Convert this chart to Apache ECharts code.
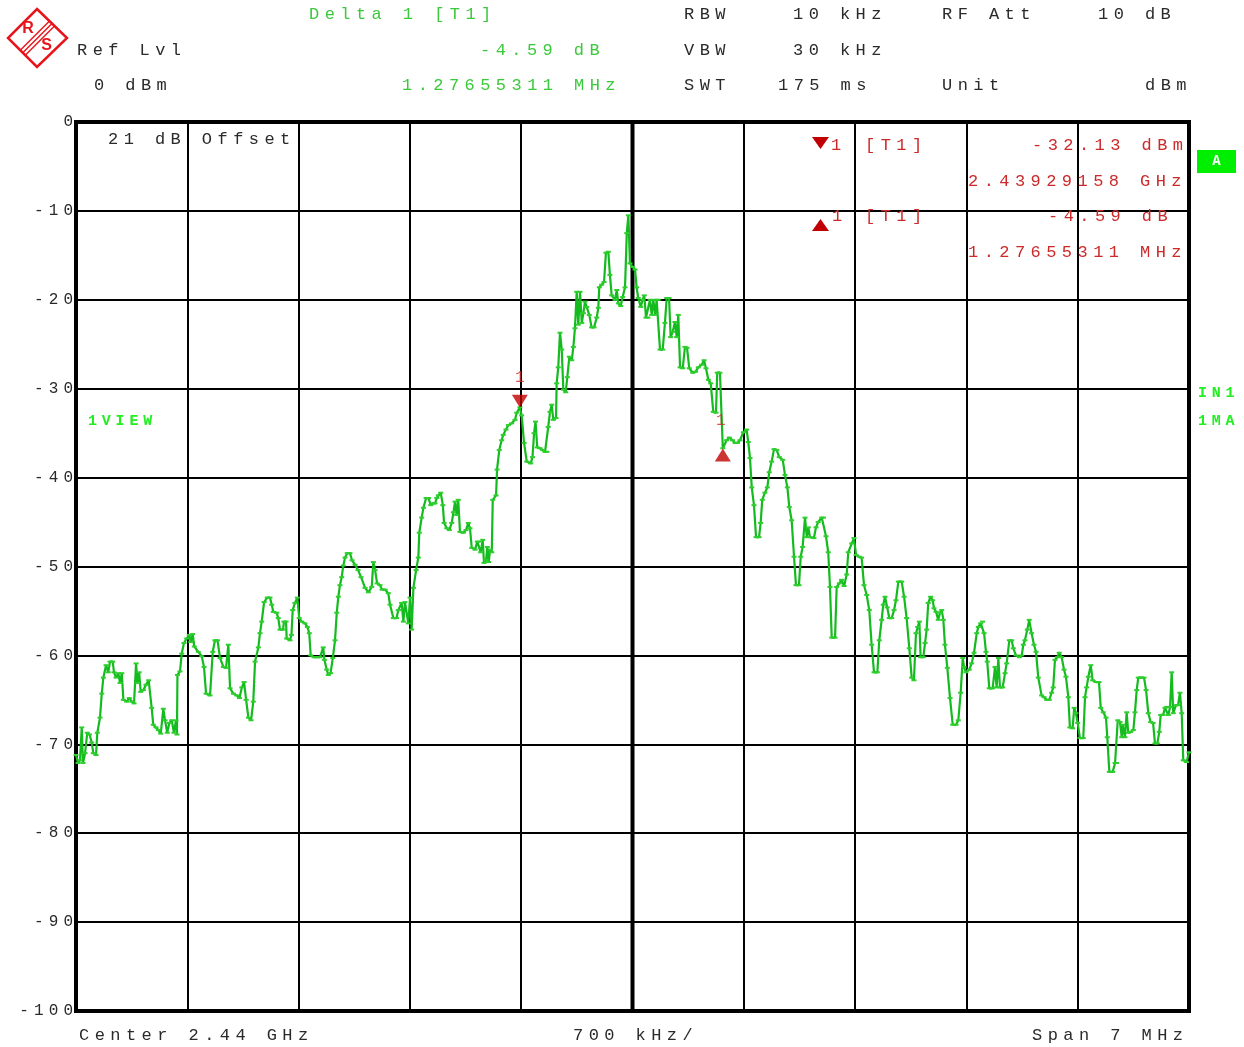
<!DOCTYPE html>
<html>
<head>
<meta charset="utf-8">
<title>Spectrum 2.44 GHz</title>
<script src="https://cdn.jsdelivr.net/npm/echarts@6/dist/echarts.min.js"></script>
<style>
  html, body { margin: 0; padding: 0; background: #fff; }
  #chart { width: 1244px; height: 1047px; }
</style>
</head>
<body>
<div id="chart"></div>
<script>
// Sweep trace: frequency offset from centre (kHz) and level (dBm)
const freqKHz = [
  -3500,-3487,-3475,-3464,-3456,-3443,-3429,-3415,-3401,-3391,
  -3374,-3366,-3349,-3338,-3328,-3311,-3297,-3286,-3269,-3261,
  -3248,-3234,-3223,-3212,-3202,-3181,-3165,-3149,-3135,-3122,
  -3114,-3103,-3093,-3076,-3060,-3043,-3024,-3014,-2997,-2982,
  -2967,-2951,-2940,-2926,-2913,-2898,-2884,-2871,-2865,-2862,
  -2846,-2835,-2821,-2804,-2787,-2778,-2766,-2756,-2731,-2709,
  -2695,-2682,-2657,-2640,-2626,-2610,-2594,-2573,-2556,-2542,
  -2531,-2510,-2489,-2472,-2457,-2443,-2430,-2416,-2399,-2385,
  -2374,-2353,-2343,-2332,-2317,-2297,-2280,-2269,-2259,-2238,
  -2228,-2217,-2198,-2192,-2179,-2175,-2154,-2145,-2137,-2123,
  -2108,-2096,-2080,-2060,-2045,-2033,-2024,-2003,-1984,-1965,
  -1945,-1938,-1923,-1913,-1899,-1885,-1871,-1860,-1850,-1840,
  -1829,-1819,-1808,-1794,-1777,-1764,-1745,-1726,-1707,-1682,
  -1661,-1640,-1630,-1619,-1606,-1588,-1575,-1556,-1536,-1525,
  -1504,-1484,-1473,-1462,-1452,-1441,-1431,-1410,-1399,-1389,
  -1378,-1361,-1347,-1341,-1326,-1315,-1298,-1283,-1269,-1255,
  -1242,-1231,-1221,-1206,-1193,-1185,-1168,-1152,-1137,-1126,
  -1116,-1106,-1096,-1085,-1064,-1047,-1033,-1022,-1011,-990,
  -976,-965,-955,-942,-934,-921,-913,-904,-896,-885,
  -879,-858,-852,-838,-823,-813,-796,-781,-760,-739,
  -728,-708,-697,-682,-665,-640,-629,-619,-610,-599,
  -582,-565,-550,-538,-530,-519,-508,-498,-481,-477,
  -467,-456,-445,-435,-420,-410,-397,-382,-372,-362,
  -351,-341,-330,-319,-309,-299,-288,-272,-257,-242,
  -225,-215,-209,-194,-179,-167,-152,-142,-131,-110,
  -99,-89,-74,-62,-47,-36,-26,-16,1,16,
  26,36,52,64,74,85,97,110,121,131,
  142,152,162,173,190,204,215,230,240,253,
  267,278,288,299,316,330,343,357,379,396,
  414,435,450,462,477,492,508,525,533,550,
  568,592,609,629,645,660,676,697,718,728,
  739,750,764,777,796,806,816,833,848,860,
  875,890,907,923,945,959,974,986,1001,1016,
  1028,1047,1058,1070,1085,1096,1106,1116,1141,1154,
  1168,1190,1201,1217,1231,1242,1253,1274,1284,1301,
  1315,1331,1347,1357,1379,1393,1406,1426,1441,1456,
  1473,1489,1504,1519,1540,1552,1567,1577,1588,1602,
  1615,1630,1645,1657,1672,1693,1708,1724,1741,1756,
  1770,1783,1794,1804,1812,1829,1840,1850,1860,1875,
  1888,1896,1909,1923,1934,1945,1955,1965,1980,1997,
  2014,2035,2049,2064,2077,2085,2097,2118,2133,2148,
  2165,2175,2190,2202,2211,2223,2231,2244,2265,2280,
  2290,2301,2311,2328,2343,2353,2370,2385,2395,2412,
  2433,2448,2458,2468,2483,2495,2510,2525,2538,2552,
  2573,2588,2605,2621,2636,2646,2657,2672,2684,2699,
  2714,2726,2741,2751,2768,2778,2789,2800,2814,2835,
  2846,2856,2867,2882,2894,2915,2934,2945,2961,2978,
  2986,2999,3020,3035,3045,3052,3066,3077,3083,3097,
  3108,3118,3133,3150,3160,3171,3181,3198,3217,3230,
  3244,3259,3274,3286,3301,3313,3322,3337,3349,3360,
  3370,3381,3391,3401,3418,3431,3443,3454,3464,3485,3500
];
const levelDbm = [
  -71.2,-72.1,-71.8,-68.1,-72.1,-71.0,-68.7,-68.9,-69.8,-71.0,
  -71.2,-68.7,-67.0,-64.3,-62.5,-61.1,-61.9,-60.7,-60.7,-61.9,
  -62.5,-62.0,-63.1,-62.0,-65.0,-65.2,-64.8,-65.2,-65.4,-60.9,
  -63.1,-61.9,-64.1,-63.9,-63.3,-62.8,-65.9,-67.8,-68.1,-68.4,
  -68.8,-66.0,-67.3,-68.7,-67.6,-67.3,-68.7,-67.3,-68.9,-62.2,
  -61.8,-59.8,-58.6,-58.1,-57.7,-58.5,-57.6,-59.0,-59.6,-60.1,
  -61.3,-64.3,-64.5,-59.6,-58.3,-58.3,-60.3,-61.3,-61.4,-58.8,
  -63.7,-64.3,-64.5,-64.8,-63.6,-63.0,-65.0,-67.0,-67.3,-65.2,
  -60.7,-59.1,-57.5,-56.2,-54.0,-53.5,-53.5,-54.3,-55.1,-55.2,
  -55.8,-57.1,-57.1,-56.2,-56.2,-58.1,-58.3,-57.7,-54.9,-54.1,
  -53.5,-55.8,-56.2,-56.4,-56.8,-57.5,-60.0,-60.2,-60.2,-60.2,
  -59.1,-60.5,-61.6,-62.2,-62.0,-60.3,-58.3,-55.2,-53.4,-52.1,
  -51.2,-49.9,-49.0,-48.5,-48.5,-49.3,-49.8,-50.4,-51.2,-52.4,
  -52.9,-52.3,-49.5,-50.4,-51.9,-52.1,-52.6,-52.6,-53.0,-54.3,
  -55.8,-55.8,-54.9,-54.9,-54.1,-56.2,-54.0,-56.4,-53.5,-57.1,
  -52.4,-50.4,-49.0,-46.2,-44.5,-43.4,-42.3,-42.3,-43.1,-42.9,
  -42.9,-42.3,-42.0,-41.7,-43.1,-45.1,-45.7,-45.9,-45.1,-43.9,
  -42.7,-44.2,-42.5,-46.1,-46.2,-45.9,-45.1,-45.7,-47.9,-48.1,
  -47.2,-47.2,-48.4,-47.0,-49.6,-49.3,-47.8,-49.5,-48.1,-48.4,
  -42.5,-42.0,-39.1,-36.9,-35.8,-35.2,-34.6,-34.1,-33.9,-33.5,
  -32.7,-32.1,-33.0,-36.1,-38.2,-38.4,-37.7,-35.0,-33.7,-36.6,
  -36.7,-36.9,-37.1,-37.1,-34.3,-32.6,-31.8,-33.5,-33.3,-29.4,
  -27.6,-23.7,-25.6,-30.1,-30.4,-28.7,-26.4,-26.8,-25.3,-23.2,
  -19.1,-22.8,-19.1,-22.6,-21.5,-20.2,-20.8,-21.7,-23.1,-23.1,
  -22.0,-20.9,-18.6,-18.3,-18.0,-14.7,-14.6,-17.2,-19.5,-20.0,
  -18.9,-20.4,-20.7,-19.7,-18.6,-12.5,-10.5,-15.9,-16.3,-16.6,
  -18.6,-19.8,-20.8,-20.0,-19.5,-22.0,-22.0,-20.0,-21.7,-20.0,
  -21.7,-20.0,-20.0,-25.6,-25.6,-22.6,-19.8,-19.8,-24.2,-23.6,
  -22.5,-24.2,-21.7,-27.6,-27.7,-25.3,-25.4,-27.7,-28.2,-28.1,
  -27.6,-27.3,-26.8,-27.7,-29.0,-29.4,-32.6,-32.7,-28.2,-28.2,
  -36.7,-35.8,-35.5,-35.8,-36.1,-36.1,-35.8,-34.9,-34.6,-36.0,
  -37.8,-41.1,-43.1,-46.7,-46.7,-45.1,-42.5,-41.7,-41.1,-39.4,
  -38.2,-36.8,-36.9,-37.7,-38.0,-39.7,-41.1,-43.3,-44.8,-48.9,
  -52.1,-52.1,-48.9,-47.8,-44.5,-46.7,-45.6,-46.7,-46.8,-45.6,
  -45.0,-44.5,-44.5,-46.6,-48.4,-52.3,-58.0,-58.0,-52.3,-51.9,
  -51.5,-52.2,-50.9,-48.4,-47.4,-46.8,-48.7,-48.9,-49.0,-52.1,
  -53.2,-54.9,-58.8,-61.9,-61.9,-58.3,-56.0,-54.3,-53.4,-54.6,
  -55.8,-55.8,-54.9,-53.8,-51.7,-51.7,-53.4,-55.8,-59.2,-62.5,
  -62.8,-57.5,-56.8,-56.2,-60.2,-60.2,-58.6,-57.1,-54.1,-53.4,
  -53.8,-54.7,-55.1,-56.0,-55.2,-54.9,-56.0,-58.8,-61.4,-64.8,
  -67.8,-67.8,-67.3,-64.2,-60.3,-61.3,-61.9,-61.6,-60.9,-59.7,
  -57.5,-56.8,-56.4,-56.2,-57.5,-59.6,-60.7,-63.7,-63.7,-61.3,
  -63.6,-60.3,-63.6,-63.6,-62.0,-60.9,-58.3,-58.3,-59.2,-60.0,
  -60.2,-60.0,-58.8,-58.3,-57.1,-56.0,-57.5,-58.8,-59.6,-62.5,
  -64.5,-64.7,-65.0,-65.0,-64.2,-63.6,-60.5,-60.2,-59.7,-60.2,
  -61.6,-62.4,-64.7,-68.1,-68.2,-65.9,-66.5,-67.6,-69.3,-69.3,
  -64.7,-63.6,-62.4,-61.1,-62.8,-63.0,-63.0,-65.9,-66.4,-67.0,
  -69.2,-73.1,-73.1,-72.1,-72.1,-67.3,-67.5,-69.2,-67.8,-69.2,
  -66.4,-68.7,-68.6,-68.4,-66.4,-63.9,-62.5,-62.5,-62.5,-63.9,
  -66.5,-67.5,-67.6,-69.9,-69.9,-68.6,-66.7,-66.7,-65.9,-65.8,
  -66.7,-65.8,-61.9,-66.5,-65.6,-65.6,-64.2,-66.5,-71.8,-72.0,-70.9
];

// Marker 1 (absolute) and delta marker relative to it
const centerGHz = 2.44;
const marker1FreqGHz = 2.43929158;
const marker1LevelDbm = -32.13;
const deltaFreqMHz = 1.27655311;
const deltaLevelDb = -4.59;

// Level axis ticks
const levelMin = -100, levelMax = 0, levelStep = 10;
// Frequency axis: span 7 MHz, 700 kHz per division
const spanKHz = 7000, divKHz = 700;

const marker1Offset = (marker1FreqGHz - centerGHz) * 1e6;           // kHz
const deltaOffset = marker1Offset + deltaFreqMHz * 1000;            // kHz
const deltaLevel = marker1LevelDbm + deltaLevelDb;                  // dBm

// Instrument-style wide monospace text: add tracking to every canvas text run
const TRACKING = 0.32;
function trackingFor(font) {
  const m = /(\d+(?:\.\d+)?)px/.exec(font || '');
  return m ? parseFloat(m[1]) * TRACKING : 0;
}
const ctxProto = CanvasRenderingContext2D.prototype;
const baseFillText = ctxProto.fillText;
ctxProto.fillText = function (text, x, y, maxWidth) {
  const ls = trackingFor(this.font);
  this.letterSpacing = ls + 'px';
  if (this.textAlign === 'right' || this.textAlign === 'end') x += ls;
  else if (this.textAlign === 'center') x += ls / 2;
  return maxWidth === undefined ? baseFillText.call(this, text, x, y)
                                : baseFillText.call(this, text, x, y, maxWidth);
};

const MONO = '"Liberation Mono", "DejaVu Sans Mono", monospace';
const INK = '#2a2a2a';
const GREEN_TXT = '#3cc83c';
const RED_TXT = '#cc2a2a';
const BRIGHT_GREEN = '#22ee22';
const TRACE = '#14bb1e';

function txt(text, x, y, fill, opts) {
  opts = opts || {};
  const font = (opts.weight || 'normal') + ' ' + (opts.size || 17) + 'px ' + MONO;
  return {
    type: 'text', x: x, y: y, z: 50,
    style: {
      text: text, fill: fill, font: font,
      textAlign: opts.align || 'left', align: opts.align || 'left',
      textVerticalAlign: 'middle', verticalAlign: 'middle'
    }
  };
}

const traceData = freqKHz.map((f, i) => [f, levelDbm[i]]);

const graphics = [
  // R&S logo
  { type: 'polygon', z: 50, shape: { points: [[37, 9], [67, 38], [37, 67], [8, 38]] },
    style: { fill: 'none', stroke: '#e8141c', lineWidth: 2.5 } },
  { type: 'line', z: 50, shape: { x1: 52.5, y1: 23, x2: 22.5, y2: 53 }, style: { stroke: '#e8141c', lineWidth: 1.5 } },
  { type: 'line', z: 50, shape: { x1: 50, y1: 20.5, x2: 20, y2: 50.5 }, style: { stroke: '#e8141c', lineWidth: 1.5 } },
  { type: 'line', z: 50, shape: { x1: 55, y1: 25.5, x2: 25, y2: 55.5 }, style: { stroke: '#e8141c', lineWidth: 1.5 } },
  { type: 'text', x: 28, y: 29, z: 50, style: { text: 'R', fill: '#e8141c', font: 'bold 16px "Liberation Sans", sans-serif', textAlign: 'center', align: 'center', textVerticalAlign: 'middle', verticalAlign: 'middle' } },
  { type: 'text', x: 46.5, y: 46, z: 50, style: { text: 'S', fill: '#e8141c', font: 'bold 16px "Liberation Sans", sans-serif', textAlign: 'center', align: 'center', textVerticalAlign: 'middle', verticalAlign: 'middle' } },

  // Header block
  txt('Delta 1 [T1]', 309, 14, GREEN_TXT),
  txt('Ref Lvl', 77, 50, INK),
  txt('-4.59 dB', 480, 50, GREEN_TXT),
  txt('0 dBm', 94, 85, INK),
  txt('1.27655311 MHz', 402, 85, GREEN_TXT),
  txt('RBW', 684, 14, INK),
  txt('10 kHz', 793, 14, INK),
  txt('RF Att', 942, 14, INK),
  txt('10 dB', 1098, 14, INK),
  txt('VBW', 684, 50, INK),
  txt('30 kHz', 793, 50, INK),
  txt('SWT', 684, 85, INK),
  txt('175 ms', 778, 85, INK),
  txt('Unit', 942, 85, INK),
  txt('dBm', 1145, 85, INK),

  // Marker readout
  { type: 'polygon', z: 50, shape: { points: [[812, 137], [829, 137], [820.5, 149]] }, style: { fill: '#c00000' } },
  txt('1', 831, 145, RED_TXT),
  txt('[T1]', 865, 145, RED_TXT),
  txt('-32.13 dBm', 1032, 145, RED_TXT),
  txt('2.43929158 GHz', 968, 181, RED_TXT),
  { type: 'polygon', z: 50, shape: { points: [[820.5, 219], [829, 231], [812, 231]] }, style: { fill: '#c00000' } },
  txt('1', 832, 216, RED_TXT),
  txt('[T1]', 865, 216, RED_TXT),
  txt('-4.59 dB', 1048, 216, RED_TXT),
  txt('1.27655311 MHz', 968, 252, RED_TXT),

  // Offset note and trace annotations
  txt('21 dB Offset', 108, 139, INK),
  txt('1VIEW', 88, 421, BRIGHT_GREEN, { size: 15, weight: 'bold' }),
  { type: 'rect', z: 50, shape: { x: 1197, y: 150, width: 39, height: 23 }, style: { fill: '#00ee00' } },
  txt('A', 1216.5, 161.5, '#ffffff', { size: 14, weight: 'bold', align: 'center' }),
  txt('IN1', 1198, 393, BRIGHT_GREEN, { size: 15, weight: 'bold' }),
  txt('1MA', 1198, 421, BRIGHT_GREEN, { size: 15, weight: 'bold' }),

  // Frequency annotation row
  txt('Center 2.44 GHz', 79, 1035, INK),
  txt('700 kHz/', 573, 1035, INK),
  txt('Span 7 MHz', 1032, 1035, INK)
];

const chart = echarts.init(document.getElementById('chart'), null, { renderer: 'canvas' });
chart.setOption({
  animation: false,
  backgroundColor: '#ffffff',
  grid: {
    left: 76, top: 122, right: 55, bottom: 36,
    show: true, borderColor: '#000000', borderWidth: 4, backgroundColor: 'transparent'
  },
  xAxis: {
    type: 'value',
    min: -spanKHz / 2, max: spanKHz / 2, interval: divKHz,
    axisLabel: { show: false }, axisTick: { show: false }, axisLine: { show: false },
    splitLine: { show: true, lineStyle: { color: '#000000', width: 2 } }
  },
  yAxis: {
    type: 'value',
    min: levelMin, max: levelMax, interval: levelStep,
    axisTick: { show: false }, axisLine: { show: false },
    axisLabel: {
      color: INK, fontFamily: MONO, fontSize: 16, margin: 3,
      padding: [0, 0, 8, 0], verticalAlign: 'middle'
    },
    splitLine: { show: true, lineStyle: { color: '#000000', width: 2 } }
  },
  graphic: { elements: graphics },
  series: [
    {
      // centre frequency line
      type: 'line', z: 1, silent: true, symbol: 'none',
      data: [[0, levelMin], [0, levelMax]],
      lineStyle: { color: '#000000', width: 4 }
    },
    {
      name: 'Trace 1', type: 'line', z: 3,
      data: traceData,
      showSymbol: true, showAllSymbol: true,
      symbol: 'rect', symbolSize: [5, 2],
      itemStyle: { color: '#2ccf2c' },
      lineStyle: { color: TRACE, width: 2.2 },
      clip: true
    },
    {
      name: 'Marker 1', type: 'scatter', z: 4,
      data: [[marker1Offset, marker1LevelDbm]],
      symbol: 'triangle', symbolRotate: 180, symbolSize: [16, 13], symbolOffset: [0, -6.5],
      itemStyle: { color: '#c00000' },
      label: { show: true, position: 'top', distance: 9, formatter: '1', color: RED_TXT, fontFamily: MONO, fontSize: 16 }
    },
    {
      name: 'Delta 1', type: 'scatter', z: 4,
      data: [[deltaOffset, deltaLevel]],
      symbol: 'triangle', symbolSize: [16, 13], symbolOffset: [0, 6.5],
      itemStyle: { color: '#c00000' },
      label: { show: true, position: 'top', distance: 20, offset: [-2, 0], formatter: '1', color: RED_TXT, fontFamily: MONO, fontSize: 16 }
    }
  ]
});
</script>
</body>
</html>
